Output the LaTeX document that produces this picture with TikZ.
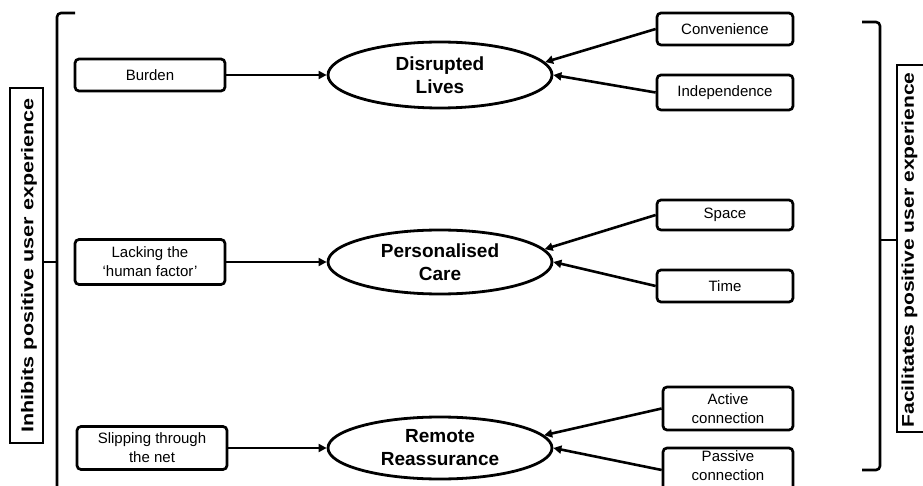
\documentclass[tikz,border=0pt]{standalone}
\usepackage{fontspec}
\setmainfont{Liberation Sans}
\usetikzlibrary{shapes.geometric,arrows.meta}
\begin{document}
\begin{tikzpicture}[x=1pt,y=-1pt,
 box/.style={draw,line width=2.7pt,rounded corners=4pt,align=center,inner sep=0pt,font=\fontsize{15}{19}\selectfont},
 oval/.style={draw,ellipse,line width=2.8pt,inner sep=0pt,align=center,font=\fontsize{19}{23}\selectfont\bfseries},
 arr/.style={line width=2.6pt,-{Triangle[length=8pt,width=8pt]}},
 brk/.style={line width=2.6pt,rounded corners=4pt},
 lab/.style={inner sep=0pt,font=\fontsize{17}{20}\selectfont\bfseries,rotate=90},
 labbox/.style={draw,line width=2.8pt}]
\clip (0,0) rectangle (923,486);
\fill[white] (0,0) rectangle (923,486);
% side labels
\node[lab] (inh) at (29,265.5) {\scalebox{1.27}[1]{Inhibits positive user experience}};
\coordinate (inhA) at (10,88);
\coordinate (inhB) at (43,443);
\draw[labbox] (inhA) rectangle (inhB);
\node[lab] (fac) at (909.5,250) {\scalebox{1.24}[1]{Facilitates positive user experience}};
\coordinate (facA) at (897,65);
\coordinate (facB) at (935,432);
\draw[labbox] (facA) rectangle (facB);
% brackets
\coordinate (lb1) at (75,13);
\coordinate (lb2) at (57,13);
\coordinate (lb3) at (57,495);
\coordinate (lm) at (57,262);
\coordinate (lmo) at (43,262);
\draw[brk] (lb1) -- (lb2) -- (lb3);
\draw[brk] (lm) -- (lmo);
\coordinate (rb1) at (862,22);
\coordinate (rb2) at (880,22);
\coordinate (rb3) at (880,470);
\coordinate (rb4) at (862,470);
\coordinate (rm) at (880,240);
\coordinate (rmo) at (897,240);
\draw[brk] (rb1) -- (rb2) -- (rb3) -- (rb4);
\draw[brk] (rm) -- (rmo);
% centre ovals
\node[oval,minimum width=224,minimum height=66] (dl) at (440,75) {Disrupted\\Lives};
\node[oval,minimum width=224,minimum height=64] (pc) at (440,262) {Personalised\\Care};
\node[oval,minimum width=224,minimum height=62] (rr) at (440,448) {Remote\\Reassurance};
% left boxes
\node[box,minimum width=150,minimum height=32] (bur) at (150,75) {Burden};
\node[box,minimum width=150,minimum height=45] (lack) at (150,262) {Lacking the\\‘human factor’};
\node[box,minimum width=150,minimum height=43] (slip) at (152,448) {Slipping through\\the net};
% right boxes
\node[box,minimum width=136,minimum height=32] (conv) at (725,29) {Convenience};
\node[box,minimum width=136,minimum height=35] (ind) at (725,92.5) {Independence};
\node[box,minimum width=136,minimum height=30] (spa) at (725,215) {Space};
\node[box,minimum width=136,minimum height=32] (tim) at (725,286) {Time};
\node[box,minimum width=130,minimum height=43] (act) at (728,408.5) {Active\\connection};
\node[box,minimum width=130,minimum height=44,text depth=8pt] (pas) at (728,470) {Passive\\connection};
% arrows
\draw[arr] (bur) -- (dl);
\draw[arr] (lack) -- (pc);
\draw[arr] (slip) -- (rr);
\draw[arr] (conv.west) -- (dl.7);
\draw[arr] (ind.west) -- (dl.east);
\draw[arr] (spa.west) -- (pc.7);
\draw[arr] (tim.west) -- (pc.east);
\draw[arr] (act.west) -- (rr.7);
\draw[arr] (pas.west) -- (rr.east);
\end{tikzpicture}
\end{document}
